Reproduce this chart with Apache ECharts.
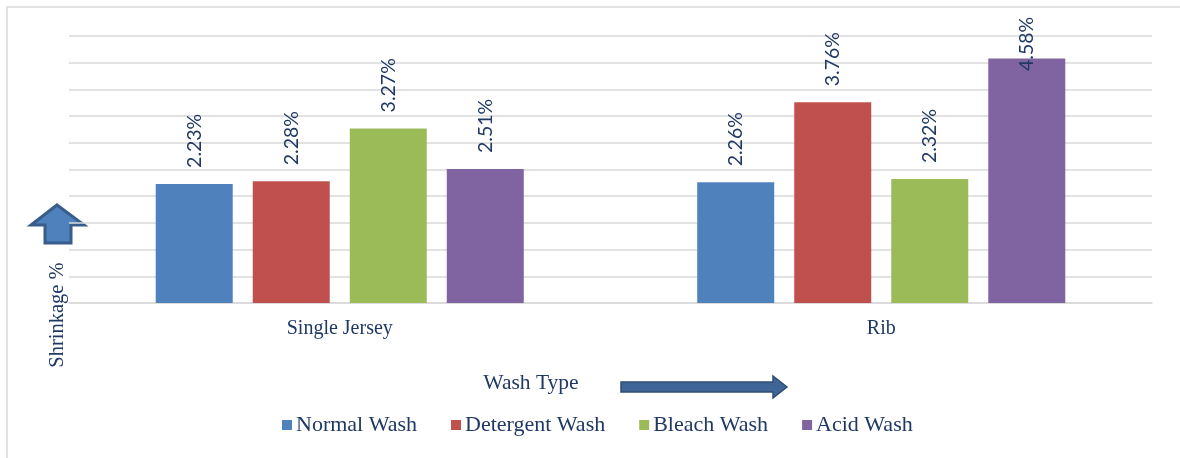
<!DOCTYPE html>
<html>
<head>
<meta charset="utf-8">
<script src="https://cdn.jsdelivr.net/npm/echarts@6/dist/echarts.min.js"></script>
<style>
  html, body { margin: 0; padding: 0; background: #fff; }
  #chart { width: 1180px; height: 458px; }
</style>
</head>
<body>
<div id="chart"></div>
<script>
// Fabric types on the category axis
const fabrics = ['Single Jersey', 'Rib'];
// Wash treatments (one series each)
const washNames = ['Normal Wash', 'Detergent Wash', 'Bleach Wash', 'Acid Wash'];
// Shrinkage (%) per fabric, one array per wash
const normalWash = [2.23, 2.26];
const detergentWash = [2.28, 3.76];
const bleachWash = [3.27, 2.32];
const acidWash = [2.51, 4.58];
// Value axis range
const yMin = 0;
const yMax = 5;
const yStep = 0.5;

const washValues = [normalWash, detergentWash, bleachWash, acidWash];
const colors = ['#4f81bd', '#c0504d', '#9bbb59', '#8064a2'];
const navy = '#1f3864';
const serif = '"Liberation Serif", "Times New Roman", serif';

const gridTop = 36, gridBottom = 155, labelGap = 16, labelLen = 53, labelCeil = 18;

const chart = echarts.init(document.getElementById('chart'), null, { renderer: 'canvas' });

function buildSeries(pxFor) {
  return washNames.map((name, i) => ({
    name: name,
    type: 'bar',
    barWidth: 77,
    barGap: '26%',
    itemStyle: { color: colors[i] },
    data: washValues[i].map(v => {
      const item = { value: v };
      if (pxFor) {
        // keep the value label inside the chart area for tall bars
        const top = pxFor(v);
        const room = top - labelLen - labelCeil;
        if (room < labelGap) item.label = { distance: room };
      }
      return item;
    }),
    label: {
      show: true,
      position: 'top',
      rotate: 90,
      align: 'left',
      verticalAlign: 'middle',
      distance: labelGap,
      color: navy,
      fontFamily: 'Lato, "Liberation Sans", sans-serif',
      fontSize: 19.5,
      formatter: p => p.value.toFixed(2) + '%'
    }
  }));
}

const option = {
  animation: false,
  backgroundColor: '#ffffff',
  grid: { left: 69, right: 28, top: gridTop, bottom: gridBottom },
  legend: {
    data: washNames,
    left: 282,
    top: 414,
    padding: 0,
    icon: 'rect',
    itemWidth: 10,
    itemHeight: 10,
    itemGap: 34,
    textStyle: { fontFamily: serif, fontSize: 22, color: navy, padding: [0, 0, 0, -1] }
  },
  xAxis: {
    type: 'category',
    data: fabrics,
    axisLine: { lineStyle: { color: '#d9d9d9', width: 1.5 } },
    axisTick: { show: false },
    axisLabel: { fontFamily: serif, fontSize: 20, color: navy, margin: 16 }
  },
  yAxis: {
    type: 'value',
    min: yMin,
    max: yMax,
    interval: yStep,
    axisLine: { show: false },
    axisTick: { show: false },
    axisLabel: { show: false },
    splitLine: { lineStyle: { color: '#d9d9d9', width: 1.5 } }
  },
  series: buildSeries(null),
  graphic: [
    // outer frame (top and left edges)
    { type: 'polyline', shape: { points: [[7, 458], [7, 7], [1180, 7]] },
      style: { stroke: '#d9d9d9', lineWidth: 1.5, fill: null } },
    // upward arrow beside the value axis
    { type: 'polygon',
      shape: { points: [[57, 205], [84, 225], [71, 225], [71, 243], [45, 243], [45, 225], [31, 225]] },
      style: { fill: '#4f81bd', stroke: '#385d8a', lineWidth: 3, lineJoin: 'miter' } },
    { type: 'text', x: 58, y: 315, rotation: Math.PI / 2,
      style: { text: 'Shrinkage %', fontFamily: serif, fontSize: 20.5, fill: navy, align: 'center', verticalAlign: 'middle' } },
    { type: 'text', x: 531, y: 383,
      style: { text: 'Wash Type', fontFamily: serif, fontSize: 21.5, fill: navy, align: 'center', verticalAlign: 'middle' } },
    // rightward arrow next to the category axis title
    { type: 'polygon',
      shape: { points: [[621, 382], [773, 382], [773, 376], [787, 387], [773, 398], [773, 392], [621, 392]] },
      style: { fill: '#3e6596', stroke: '#2f4e77', lineWidth: 1.5 } }
  ]
};

chart.setOption(option);
const pxFor = v => chart.convertToPixel({ yAxisIndex: 0 }, v);
chart.setOption({ series: buildSeries(pxFor) });
</script>
</body>
</html>
